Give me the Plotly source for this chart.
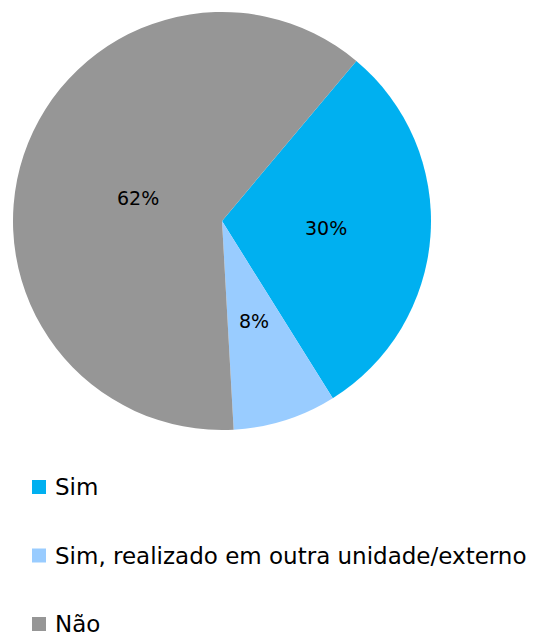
import math
import plotly.graph_objects as go

categories = ["Sim", "Sim, realizado em outra unidade/externo", "Não"]
values = [30, 8, 62]
colors = ["#00B0F0", "#99CCFF", "#969696"]

W, H = 542, 638
cx, cy, R = 222, 221, 209
ROT = 40  # degrees clockwise from 12 o'clock where first slice starts

fig = go.Figure()
fig.add_trace(go.Pie(
    labels=categories, values=values, sort=False, direction="clockwise",
    rotation=ROT, marker=dict(colors=colors, line=dict(width=0)),
    textinfo="none", showlegend=False, hoverinfo="label+percent",
    domain=dict(x=[(cx - R) / W, (cx + R) / W], y=[1 - (cy + R) / H, 1 - (cy - R) / H]),
))

# percentage labels placed at about half radius along each slice's mid-angle
total = sum(values)
start = ROT
for v in values:
    span = 360 * v / total
    mid = math.radians(start + span / 2)
    rf = 0.5 if span < 180 else 0.54
    px = cx + rf * R * math.sin(mid)
    py = cy - rf * R * math.cos(mid)
    fig.add_annotation(x=px / W, y=1 - py / H, xref="paper", yref="paper",
                       text="%d%%" % round(100 * v / total), showarrow=False,
                       font=dict(family="DejaVu Sans", size=19, color="#000000"))
    start += span

# legend drawn manually (square marker + label)
leg_y0, leg_dy = 487, 68.5
for i, (c, col) in enumerate(zip(categories, colors)):
    yc = leg_y0 + i * leg_dy
    fig.add_shape(type="rect", xref="paper", yref="paper",
                  x0=32 / W, x1=46 / W, y0=1 - (yc + 7) / H, y1=1 - (yc - 7) / H,
                  fillcolor=col, line=dict(width=0))
    fig.add_annotation(x=53 / W, y=1 - yc / H, xref="paper", yref="paper",
                       xanchor="left", yanchor="middle", text=c, showarrow=False,
                       font=dict(family="DejaVu Sans", size=23, color="#000000"))

fig.update_layout(
    width=W, height=H, margin=dict(l=0, r=0, t=0, b=0),
    paper_bgcolor="white", plot_bgcolor="white",
    showlegend=False,
)
fig.write_html("out.html", config={"displayModeBar": False},
               post_script="document.body.style.margin='0';document.body.style.padding='0';document.body.style.overflow='hidden';")
